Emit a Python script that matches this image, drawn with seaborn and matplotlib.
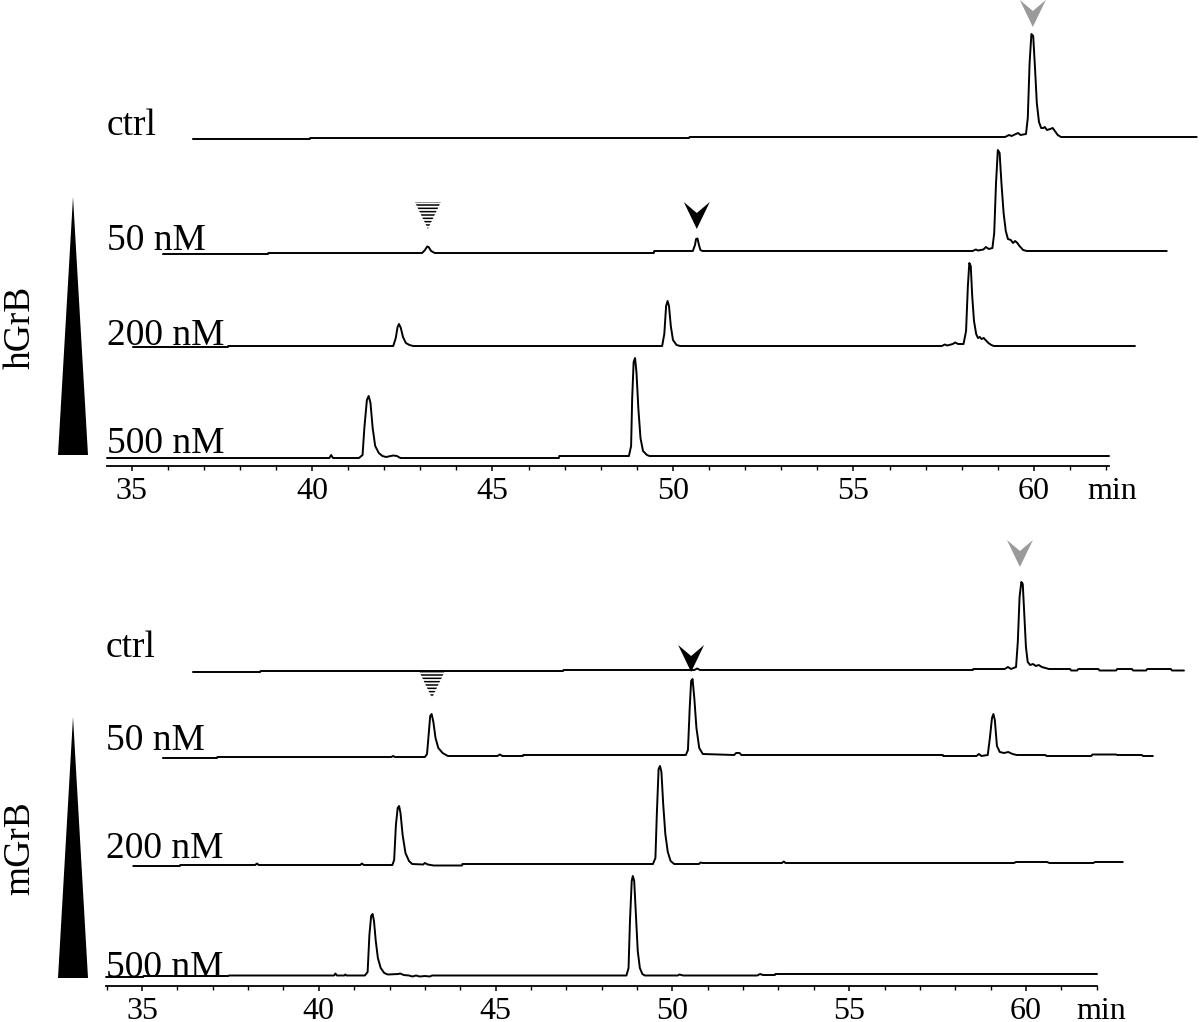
import numpy as np
import pandas as pd
import matplotlib.pyplot as plt
import matplotlib.transforms as mtransforms
from matplotlib.patches import Polygon
from matplotlib.ticker import MultipleLocator
import seaborn as sns

# Chromatogram traces: time (min) and signal (a.u.) above each trace's own baseline.
# --- hGrB panel ---
h_ctrl_t = [36.70, 39.94, 39.95, 50.45, 50.46, 59.20, 59.31, 59.38, 59.50, 59.56, 59.63, 59.78, 59.83, 59.88,
            59.93, 59.98, 60.03, 60.08, 60.14, 60.20, 60.26, 60.30, 60.36, 60.45, 60.52, 60.58, 60.66, 60.75, 64.51]
h_ctrl_s = [0, 0, 1, 1, 2, 2, 4, 3, 5, 6, 4, 5, 21, 76, 105, 103, 71, 36, 17, 11, 11, 12, 9, 10, 11, 8, 4, 2, 2]

h_50_t = [35.87, 38.78, 38.79, 43.05, 43.13, 43.19, 43.23, 43.30, 43.40, 49.47, 49.48, 50.55, 50.61, 50.64,
          50.68, 50.72, 50.76, 50.82, 58.30, 58.39, 58.45, 58.60, 58.67, 58.75, 58.85, 58.90, 58.95, 59.00,
          59.05, 59.10, 59.16, 59.22, 59.28, 59.36, 59.42, 59.48, 59.54, 59.60, 59.70, 59.80, 63.68]
h_50_s = [0, 0, 1, 1, 4, 7.5, 7, 3, 1, 1, 3, 3, 9, 15, 15.5, 9, 4, 3, 3, 4.5, 3.5, 4.5, 7, 5, 6, 21, 71, 104,
          101, 71, 41, 23, 15, 14, 11, 13, 11, 8, 4, 3, 3]

h_200_t = [35.04, 37.67, 37.68, 42.25, 42.32, 42.37, 42.41, 42.46, 42.52, 42.60, 42.70, 42.80, 49.70, 49.76,
           49.81, 49.85, 49.89, 49.94, 50.00, 50.10, 50.20, 57.45, 57.53, 57.60, 57.75, 57.82, 57.90, 58.05,
           58.12, 58.17, 58.21, 58.25, 58.29, 58.34, 58.40, 58.45, 58.50, 58.55, 58.61, 58.66, 58.74, 58.82,
           58.89, 62.80]
h_200_s = [0, 0, 1, 1, 9, 20, 23, 19, 10, 4, 2, 1, 1, 13, 41, 46, 41, 21, 7, 2, 1, 1, 2.5, 1.5, 3, 4.5, 3, 3,
           16, 61, 84, 81, 51, 26, 13, 9, 10, 8, 9, 7, 4, 2, 1, 1]

h_500_t = [34.32, 40.48, 40.53, 40.58, 41.30, 41.40, 41.45, 41.52, 41.57, 41.62, 41.68, 41.75, 41.85, 41.95,
           42.05, 42.25, 42.35, 42.45, 46.84, 46.85, 48.78, 48.84, 48.87, 48.91, 48.95, 48.99, 49.04, 49.10,
           49.17, 49.28, 49.35, 62.08]
h_500_s = [0, 0, 3, 0, 0, 3, 30, 58, 62, 55, 30, 12, 5, 2, 1, 2.5, 2, 0, 0, 2, 2, 12, 60, 96, 100, 85, 50, 20,
           7, 3, 2, 2]

# --- mGrB panel ---
m_ctrl_t = [36.44, 38.34, 38.35, 46.91, 46.92, 50.62, 50.70, 50.78, 58.50, 58.51, 59.40, 59.49, 59.58, 59.72,
            59.77, 59.82, 59.87, 59.91, 59.95, 60.00, 60.05, 60.12, 60.20, 60.28, 60.36, 60.45, 60.55, 60.65,
            61.25, 61.28, 61.45, 61.48, 62.05, 62.08, 62.55, 62.58, 63.00, 63.03, 63.40, 63.43, 64.10, 64.13, 64.47]
m_ctrl_s = [0, 0, 1, 1, 2, 2, 3.5, 2, 2, 3, 3, 5, 3, 5, 30, 75, 90, 88, 60, 25, 10, 7, 8, 6, 7, 5, 4, 3,
            3, 1.5, 1.5, 3, 3, 1.5, 1.5, 3, 3, 1.5, 1.5, 3, 3, 1.5, 1.5]

m_50_t = [35.59, 37.12, 37.13, 42.05, 42.10, 42.15, 43.00, 43.06, 43.11, 43.15, 43.19, 43.24, 43.30, 43.38,
          43.50, 43.65, 45.05, 45.12, 45.19, 45.77, 45.78, 50.38, 50.44, 50.49, 50.53, 50.57, 50.62, 50.68,
          50.76, 50.86, 51.75, 51.80, 51.90, 51.95, 57.65, 57.66, 58.60, 58.67, 58.74, 58.92, 58.98, 59.04,
          59.08, 59.12, 59.18, 59.26, 59.38, 59.50, 59.62, 59.74, 60.55, 60.58, 61.85, 61.88, 62.55, 62.58,
          63.28, 63.31, 63.59]
m_50_s = [0, 0, 1, 1, 2, 1, 1, 4, 25, 42, 44, 36, 20, 10, 5, 2, 2, 3.5, 2, 2, 3, 3, 8, 50, 77, 79, 60, 30,
          10, 4, 3, 5, 5, 3, 3, 2, 2, 4, 2, 3, 20, 40, 44, 38, 12, 6, 5, 6, 4, 3, 3, 2, 2, 3.5, 3.5, 3,
          3, 2, 2]

m_200_t = [34.75, 36.07, 36.08, 38.20, 38.25, 38.30, 41.17, 41.22, 41.27, 42.08, 42.13, 42.18, 42.23, 42.27,
           42.31, 42.37, 42.45, 42.55, 42.64, 42.95, 43.00, 43.08, 43.25, 44.05, 44.06, 49.45, 49.52, 49.56,
           49.61, 49.65, 49.69, 49.74, 49.80, 49.87, 49.95, 50.05, 50.75, 50.80, 50.85, 53.10, 53.15, 53.20,
           59.66, 59.72, 60.60, 60.66, 61.90, 61.96, 62.74]
m_200_s = [0, 0, 1, 1, 2.5, 1, 1, 2.5, 1, 1, 6, 41, 58, 60, 53, 31, 13, 5, 2, 1.5, 3, 1.5, 0.5, 0.5, 2, 2, 8,
           52, 97, 100, 94, 62, 32, 14, 5, 2, 2, 3.5, 3, 3, 4.5, 3, 3, 4, 4, 3, 3, 4, 4]

m_500_t = [33.98, 35.03, 35.04, 37.44, 37.46, 40.43, 40.47, 40.51, 40.72, 40.75, 40.78, 41.30, 41.38, 41.43,
           41.48, 41.52, 41.56, 41.61, 41.67, 41.75, 41.85, 41.95, 42.25, 42.30, 42.40, 42.55, 42.65, 42.75,
           42.85, 43.00, 43.14, 43.20, 48.70, 48.76, 48.80, 48.85, 48.88, 48.92, 48.97, 49.02, 49.08, 49.15,
           49.22, 50.15, 50.20, 50.30, 52.40, 52.48, 52.56, 52.90, 52.91, 62.01]
m_500_s = [0, 0, 1, 1, 1.5, 1.5, 3.5, 1.5, 1.5, 2.5, 1.5, 1.5, 5, 42, 61, 63, 56, 36, 19, 9, 4, 2.5, 3, 3.5,
           2, 1.5, 0.5, 1.5, 0.5, 1, 0.5, 1.5, 1.5, 9, 56, 96, 101, 96, 61, 26, 9, 3, 1.5, 1.5, 2.5, 1.5,
           1.5, 3, 2, 2, 3, 3]

trace_names = ["ctrl", "50 nM", "200 nM", "500 nM"]
h_offsets = [327, 212, 119, 8]
m_offsets = [314, 228, 120, 9]

# arrowheads: (time, height of tip, style)
h_arrows = [(43.21, 237, "striped"), (50.66, 237, "black"), (59.97, 439, "gray")]
m_arrows = [(43.20, 288, "striped"), (50.53, 314, "black"), (59.83, 419, "gray")]


def make_df(traces, offsets):
    frames = []
    for name, (t, s), off in zip(trace_names, traces, offsets):
        frames.append(pd.DataFrame({"time": t, "y": np.array(s) + off, "trace": name}))
    return pd.concat(frames, ignore_index=True)


h_df = make_df([(h_ctrl_t, h_ctrl_s), (h_50_t, h_50_s), (h_200_t, h_200_s), (h_500_t, h_500_s)], h_offsets)
m_df = make_df([(m_ctrl_t, m_ctrl_s), (m_50_t, m_50_s), (m_200_t, m_200_s), (m_500_t, m_500_s)], m_offsets)

sns.set_style("white")
plt.rcParams['font.family'] = ['Liberation Serif', 'DejaVu Serif']
plt.rcParams['text.color'] = 'black'
plt.rcParams['xtick.color'] = 'black'
plt.rcParams['hatch.linewidth'] = 1.1

W, H = 1200, 1022
fig = plt.figure(figsize=(W / 100, H / 100), dpi=100)

NOTCHED = [(0, 0), (13, 27), (0, 16), (-13, 27)]
PLAIN = [(0, 0), (13, 27), (-13, 27)]


def add_arrow(ax, x, y, style):
    trans = (mtransforms.Affine2D().scale(1 / 100) + fig.dpi_scale_trans
             + mtransforms.ScaledTranslation(x, y, ax.transData))
    if style == "striped":
        p = Polygon(PLAIN, closed=True, transform=trans, facecolor="white", edgecolor="black",
                    linewidth=0, hatch="-----", clip_on=False)
    else:
        col = "black" if style == "black" else "#9a9a9a"
        p = Polygon(NOTCHED, closed=True, transform=trans, facecolor=col, edgecolor="none", clip_on=False)
    ax.add_patch(p)


def draw_panel(rect_px, xlim, df, offsets, label_dy, arrows, min_x):
    left, right, top, bottom = rect_px
    ax = fig.add_axes([left / W, 1 - bottom / H, (right - left) / W, (bottom - top) / H])
    sns.lineplot(data=df, x="time", y="y", units="trace", estimator=None, sort=False,
                 color="black", linewidth=1.4, ax=ax, legend=False, clip_on=False)
    ax.set_xlim(*xlim)
    ax.set_ylim(0, bottom - top)
    for side in ["left", "top", "right"]:
        ax.spines[side].set_visible(False)
    ax.spines["bottom"].set_linewidth(1.3)
    ax.spines["bottom"].set_color("black")
    ax.set_yticks([])
    ax.set_xlabel("")
    ax.set_ylabel("")
    ax.xaxis.set_major_locator(MultipleLocator(5))
    ax.xaxis.set_minor_locator(MultipleLocator(1))
    ax.tick_params(axis="x", which="major", direction="out", length=3.8, width=1.1,
                   labelsize=23, pad=4, bottom=True, colors="black")
    ax.tick_params(axis="x", which="minor", direction="out", length=2.6, width=1.0, bottom=True)
    trans = mtransforms.blended_transform_factory(ax.transAxes, ax.transData)
    for name, off, dy in zip(trace_names, offsets, label_dy):
        ax.text(0.0, off + dy, name, transform=trans, ha="left", va="baseline", fontsize=27)
    ax.annotate("min", xy=(min_x, 0), xycoords=("data", "axes fraction"), xytext=(0, -7.8),
                textcoords="offset points", ha="center", va="top", fontsize=23)
    for x, y, style in arrows:
        add_arrow(ax, x, y, style)
    return ax


draw_panel((107, 1109, 0, 466), (34.32, 62.08), h_df, h_offsets, [4, 4, 2, 5], h_arrows, 62.16)
draw_panel((106, 1097, 520, 986), (33.98, 62.01), m_df, m_offsets, [15, 8, 8, 0], m_arrows, 62.12)

# concentration wedges and group labels
for apex_y, base_y, label, label_y in [(197, 455, "hGrB", 327), (717, 978, "mGrB", 848)]:
    tri = Polygon([(73 / W, 1 - apex_y / H), (88 / W, 1 - base_y / H), (58 / W, 1 - base_y / H)],
                  closed=True, transform=fig.transFigure, facecolor="black", edgecolor="none")
    fig.add_artist(tri)
    fig.text(20 / W, 1 - label_y / H, label, rotation=90, ha="center", va="center", fontsize=27)

fig.savefig("out.png", dpi=100)
